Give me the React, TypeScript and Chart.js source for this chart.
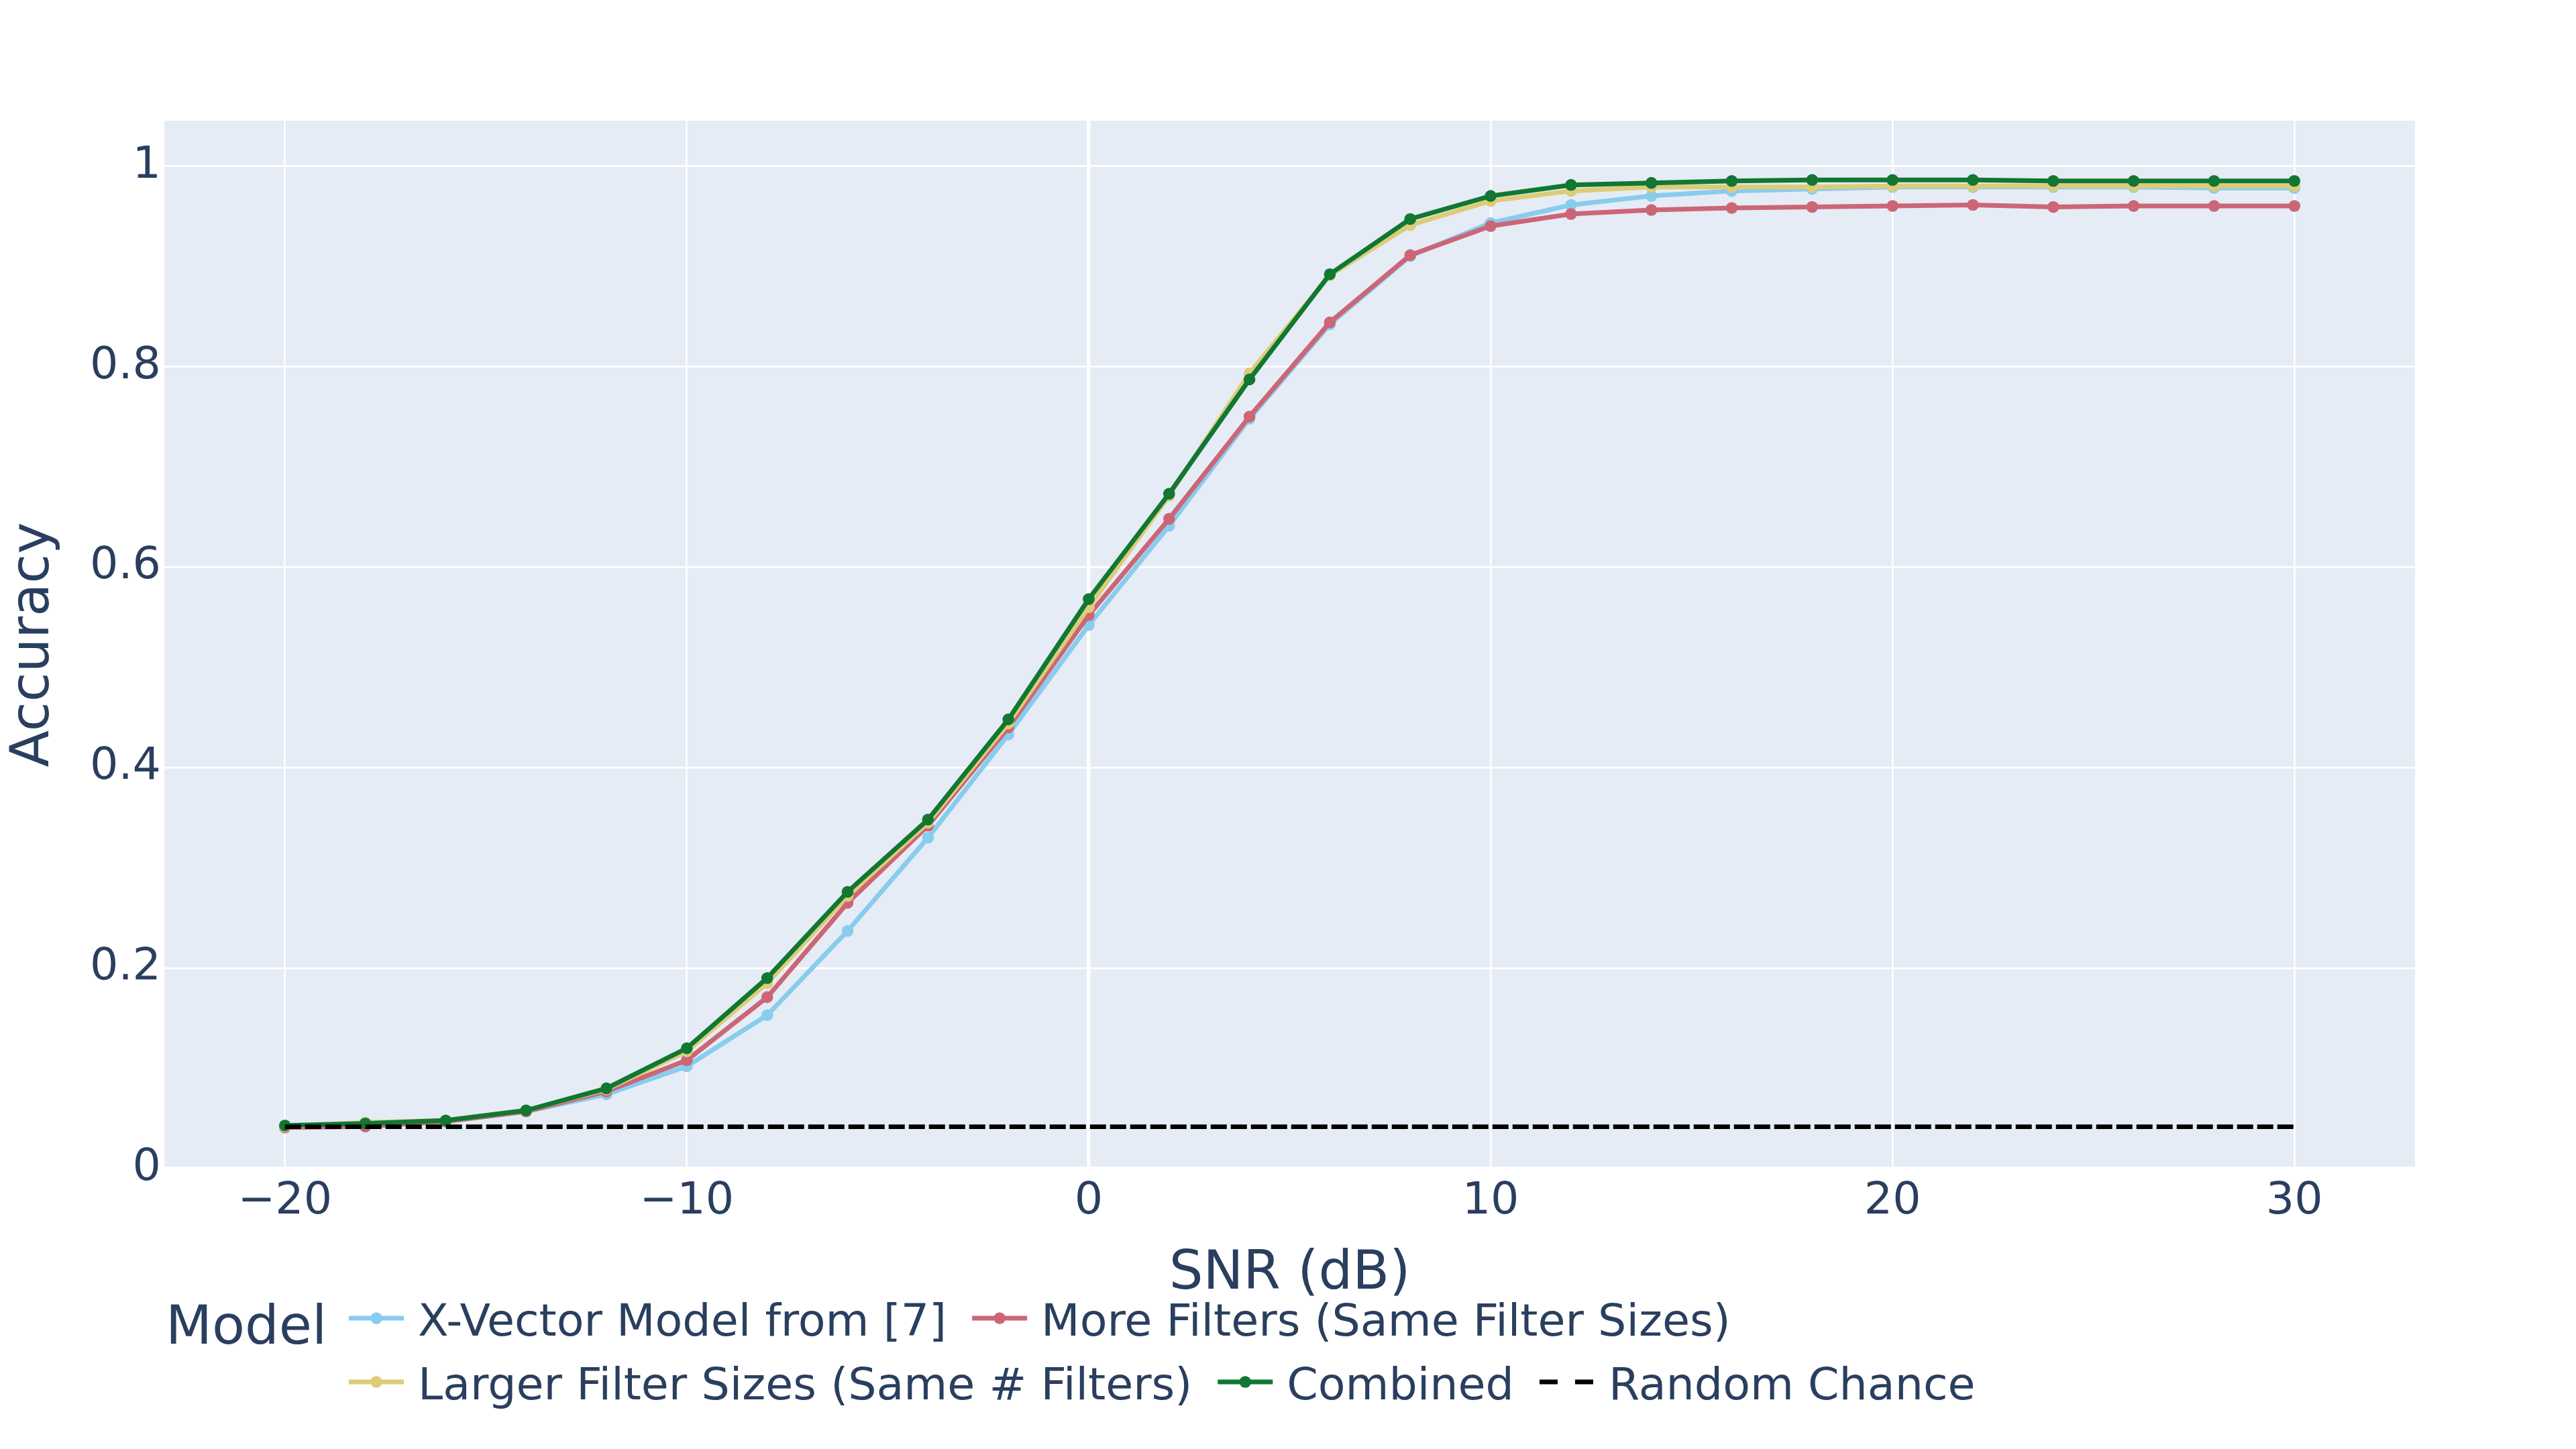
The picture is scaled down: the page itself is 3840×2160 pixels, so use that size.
import React, { useEffect, useRef } from "react";
import { Chart, registerables } from "chart.js";

Chart.register(...registerables);

// ---------- data ----------
const snr = [-20, -18, -16, -14, -12, -10, -8, -6, -4, -2, 0, 2, 4, 6, 8, 10, 12, 14, 16, 18, 20, 22, 24, 26, 28, 30];

const xVectorAcc = [0.042, 0.043, 0.047, 0.057, 0.074, 0.102, 0.153, 0.237, 0.330, 0.433, 0.542, 0.641, 0.748, 0.842, 0.910, 0.943, 0.961, 0.970, 0.975, 0.977, 0.979, 0.979, 0.979, 0.979, 0.978, 0.978];
const moreFiltersAcc = [0.041, 0.042, 0.047, 0.057, 0.077, 0.108, 0.171, 0.265, 0.342, 0.440, 0.552, 0.648, 0.750, 0.844, 0.911, 0.940, 0.952, 0.956, 0.958, 0.959, 0.960, 0.961, 0.959, 0.960, 0.960, 0.960];
const largerFiltersAcc = [0.042, 0.046, 0.048, 0.058, 0.079, 0.117, 0.185, 0.272, 0.345, 0.444, 0.560, 0.671, 0.793, 0.891, 0.941, 0.965, 0.975, 0.979, 0.979, 0.979, 0.980, 0.980, 0.980, 0.980, 0.980, 0.980];
const combinedAcc = [0.043, 0.045, 0.048, 0.058, 0.080, 0.120, 0.190, 0.276, 0.348, 0.448, 0.568, 0.673, 0.787, 0.892, 0.947, 0.970, 0.981, 0.983, 0.985, 0.986, 0.986, 0.986, 0.985, 0.985, 0.985, 0.985];

const randomSnr = [-20, 30];
const randomAcc = [0.0417, 0.0417];

const seriesLabels = [
  "X-Vector Model from [7]",
  "More Filters (Same Filter Sizes)",
  "Larger Filter Sizes (Same # Filters)",
  "Combined",
  "Random Chance",
];

const xTickValues = [-20, -10, 0, 10, 20, 30];
const xTickLabels = ["\u221220", "\u221210", "0", "10", "20", "30"];
const yTickValues = [0, 0.2, 0.4, 0.6, 0.8, 1];
const yTickLabels = ["0", "0.2", "0.4", "0.6", "0.8", "1"];

const xTitle = "SNR (dB)";
const yTitle = "Accuracy";
const legendTitle = "Model";

// ---------- styling ----------
const TEXT = "#2a3f5f";
const FONT = '"DejaVu Sans", Verdana, sans-serif';
const SMALL = 66.67;
const BIG = 80;
const W = 3840;
const H = 2160;
const LW = 7;
const PR = 8.8;

const toPts = (xs: number[], ys: number[]) => xs.map((x, i) => ({ x, y: ys[i] }));

const bgPlugin = {
  id: "plotBg",
  beforeDraw(chart: any) {
    const { ctx, chartArea: a } = chart;
    ctx.save();
    ctx.fillStyle = "#ffffff";
    ctx.fillRect(0, 0, chart.width, chart.height);
    ctx.fillStyle = "#E5ECF6";
    ctx.fillRect(a.left, a.top, a.right - a.left, a.bottom - a.top);
    ctx.restore();
  },
};

const legendPlugin = {
  id: "plotlyLegend",
  afterDraw(chart: any) {
    const ctx = chart.ctx as CanvasRenderingContext2D;
    ctx.save();
    ctx.textAlign = "left";
    ctx.textBaseline = "alphabetic";
    ctx.fillStyle = TEXT;
    ctx.font = `${BIG}px ${FONT}`;
    ctx.fillText(legendTitle, 247, 2003);
    ctx.font = `${SMALL}px ${FONT}`;
    const startX = 520;
    const firstRow = 1965;
    const rowGap = 95;
    const maxRight = W - 20;
    let x = startX;
    let row = 0;
    chart.data.datasets.forEach((ds: any) => {
      const tw = ctx.measureText(ds.label).width;
      const itemW = 103 + tw;
      if (x + itemW > maxRight && x !== startX) {
        row++;
        x = startX;
      }
      const cy = firstRow + row * rowGap;
      ctx.beginPath();
      ctx.strokeStyle = ds.borderColor;
      ctx.lineWidth = LW;
      ctx.lineCap = "butt";
      ctx.setLineDash(ds.legendDash || []);
      ctx.moveTo(x, cy);
      ctx.lineTo(x + 82, cy);
      ctx.stroke();
      ctx.setLineDash([]);
      if (ds.pointRadius > 0) {
        ctx.beginPath();
        ctx.fillStyle = ds.borderColor;
        ctx.arc(x + 41, cy, PR, 0, Math.PI * 2);
        ctx.fill();
      }
      ctx.fillStyle = TEXT;
      ctx.fillText(ds.label, x + 103, cy + 26);
      x += itemW + 38;
    });
    ctx.restore();
  },
};

export default function App() {
  const ref = useRef<HTMLCanvasElement | null>(null);

  useEffect(() => {
    if (!ref.current) return;
    document.body.style.margin = "0";
    const colors = ["#88CCEE", "#CC6677", "#DDCC77", "#117733"];
    const series = [xVectorAcc, moreFiltersAcc, largerFiltersAcc, combinedAcc];
    const datasets: any[] = series.map((ys, i) => ({
      label: seriesLabels[i],
      data: toPts(snr, ys),
      borderColor: colors[i],
      backgroundColor: colors[i],
      pointBackgroundColor: colors[i],
      pointBorderWidth: 0,
      pointRadius: PR,
      pointHoverRadius: PR,
      borderWidth: LW,
      tension: 0,
      fill: false,
      order: 5 - i,
    }));
    datasets.push({
      label: seriesLabels[4],
      data: toPts(randomSnr, randomAcc),
      borderColor: "#000000",
      backgroundColor: "#000000",
      borderWidth: 6.7,
      borderDash: [24, 6],
      legendDash: [27, 26],
      pointRadius: 0,
      tension: 0,
      fill: false,
      order: 1,
    });

    const chart = new Chart(ref.current, {
      type: "line",
      data: { datasets },
      options: {
        animation: false,
        responsive: false,
        devicePixelRatio: 1,
        layout: { padding: { left: 0, top: 180, right: 240, bottom: 212 } },
        plugins: { legend: { display: false }, tooltip: { enabled: false } },
        scales: {
          x: {
            type: "linear",
            position: "bottom",
            min: -23,
            max: 33,
            afterBuildTicks: (s: any) => {
              s.ticks = xTickValues.map((v) => ({ value: v }));
            },
            afterFit: (s: any) => {
              s.height = 206;
            },
            grid: {
              color: "#ffffff",
              lineWidth: (c: any) => (c.tick && c.tick.value === 0 ? 5.4 : 2.7),
              drawTicks: false,
            },
            border: { display: false },
            ticks: {
              padding: 10,
              color: TEXT,
              font: { family: FONT, size: SMALL },
              maxRotation: 0,
              autoSkip: false,
              callback: (_v: any, i: number) => xTickLabels[i],
            },
            title: {
              display: true,
              text: xTitle,
              color: TEXT,
              font: { family: FONT, size: BIG },
              padding: { top: 0, bottom: 0 },
            },
          },
          y: {
            type: "linear",
            min: 0,
            max: 1.045,
            afterBuildTicks: (s: any) => {
              s.ticks = yTickValues.map((v) => ({ value: v }));
            },
            afterFit: (s: any) => {
              s.width = 245;
            },
            grid: {
              color: "#ffffff",
              lineWidth: (c: any) => (c.tick && c.tick.value === 0 ? 5.4 : 2.7),
              drawTicks: false,
            },
            border: { display: false },
            ticks: {
              padding: 5,
              color: TEXT,
              font: { family: FONT, size: SMALL },
              autoSkip: false,
              callback: (_v: any, i: number) => yTickLabels[i],
            },
            title: {
              display: true,
              text: yTitle,
              color: TEXT,
              font: { family: FONT, size: BIG },
              padding: { top: 3, bottom: 0 },
            },
          },
        },
      },
      plugins: [bgPlugin, legendPlugin],
    } as any);

    return () => chart.destroy();
  }, []);

  return (
    <div style={{ position: "fixed", left: 0, top: 0, width: W, height: H, background: "#fff" }}>
      <canvas ref={ref} width={W} height={H} style={{ width: W, height: H, display: "block" }} />
    </div>
  );
}
